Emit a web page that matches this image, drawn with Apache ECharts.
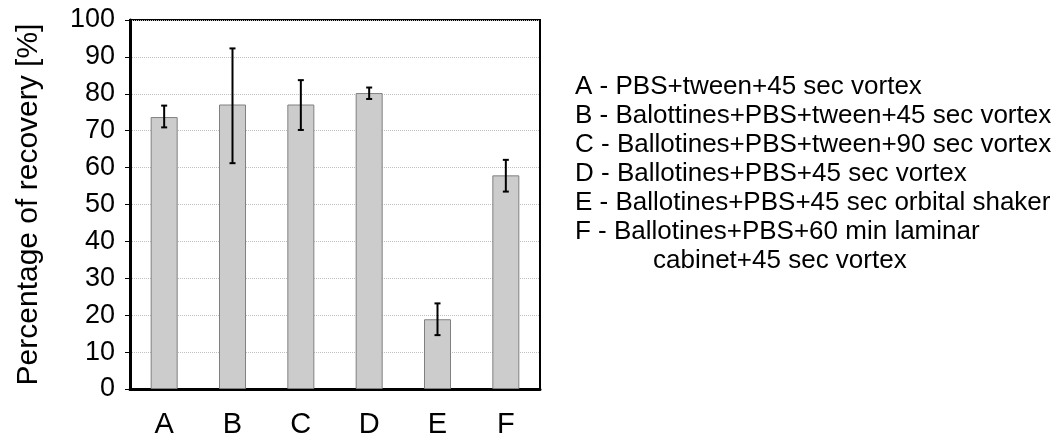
<!DOCTYPE html>
<html>
<head>
<meta charset="utf-8">
<script src="https://cdn.jsdelivr.net/npm/echarts@6/dist/echarts.min.js"></script>
<style>
html,body{margin:0;padding:0;background:#fff;}
#chart{width:1064px;height:439px;}
</style>
</head>
<body>
<div id="chart"></div>
<script>
var categories = ['A', 'B', 'C', 'D', 'E', 'F'];
var meanValues = [73.7, 77.1, 77.1, 80.2, 18.9, 57.9];
var errLow = [70.9, 61.2, 70.2, 78.6, 14.6, 53.5];
var errHigh = [76.8, 92.3, 83.7, 81.7, 23.2, 62.1];
var yTicks = [0, 10, 20, 30, 40, 50, 60, 70, 80, 90, 100];
var legendLines = [
  'A - PBS+tween+45 sec vortex',
  'B - Balottines+PBS+tween+45 sec vortex',
  'C - Ballotines+PBS+tween+90 sec vortex',
  'D - Ballotines+PBS+45 sec vortex',
  'E - Ballotines+PBS+45 sec orbital shaker',
  'F - Ballotines+PBS+60 min laminar',
  'cabinet+45 sec vortex'
];

var errData = categories.map(function (c, i) { return [i, errLow[i], errHigh[i]]; });
var font = 'Liberation Sans, Arial, sans-serif';

var chart = echarts.init(document.getElementById('chart'));
var legendGraphics = legendLines.map(function (t, i) {
  return {
    type: 'text',
    left: (i === 6 ? 653 : 575),
    top: 74 + i * 29,
    style: { text: t, font: '26px ' + font, fill: '#000' }
  };
});

chart.setOption({
  animation: false,
  backgroundColor: '#fff',
  grid: { left: 130, right: 524, top: 20, bottom: 50, show: true, borderColor: '#000', borderWidth: 2, backgroundColor: 'transparent' },
  xAxis: {
    type: 'category',
    data: categories,
    axisLine: { lineStyle: { color: '#000', width: 3 } },
    axisTick: { show: false },
    axisLabel: { color: '#000', fontSize: 29, fontFamily: font, margin: 21 }
  },
  yAxis: {
    type: 'value',
    min: 0, max: 100, interval: 10,
    name: 'Percentage of recovery [%]',
    nameLocation: 'middle',
    nameGap: 86,
    nameTextStyle: { color: '#000', fontSize: 30, fontFamily: font },
    axisLine: { show: true, lineStyle: { color: '#000', width: 3 } },
    axisTick: { show: true, length: 5, lineStyle: { color: '#000', width: 1 } },
    axisLabel: {
      color: '#000', fontSize: 27, fontFamily: font, margin: 15,
      formatter: function (v) { return yTicks.indexOf(v) >= 0 ? String(v) : ''; }
    },
    splitLine: { show: true, lineStyle: { color: '#c0c0c0', type: 'dotted', width: 1 } }
  },
  graphic: legendGraphics,
  series: [
    {
      type: 'bar',
      data: meanValues,
      barWidth: 27,
      itemStyle: { color: '#cccccc', borderColor: '#808080', borderWidth: 1 },
      z: 2
    },
    {
      type: 'custom',
      data: errData,
      z: 5,
      renderItem: function (params, api) {
        var x = api.value(0);
        var lo = api.coord([x, api.value(1)]);
        var hi = api.coord([x, api.value(2)]);
        var cap = 3;
        var style = { stroke: '#000', lineWidth: 2 };
        return {
          type: 'group',
          children: [
            { type: 'line', shape: { x1: hi[0], y1: hi[1], x2: lo[0], y2: lo[1] }, style: style },
            { type: 'line', shape: { x1: hi[0] - cap, y1: hi[1], x2: hi[0] + cap, y2: hi[1] }, style: style },
            { type: 'line', shape: { x1: lo[0] - cap, y1: lo[1], x2: lo[0] + cap, y2: lo[1] }, style: style }
          ]
        };
      }
    }
  ]
});
</script>
</body>
</html>
